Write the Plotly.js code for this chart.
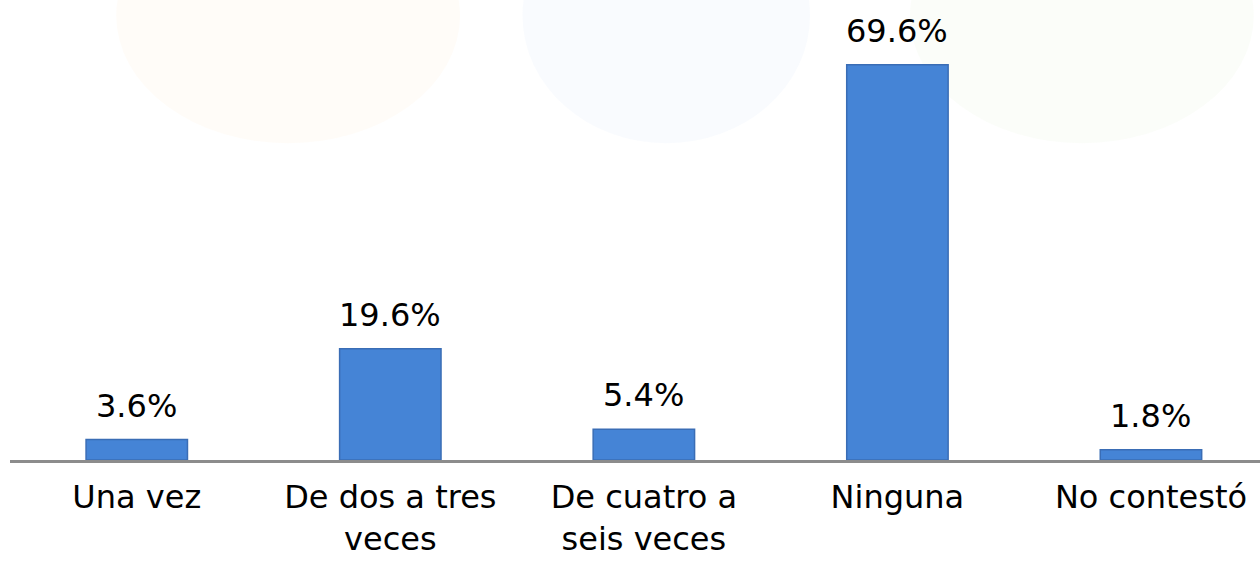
<!DOCTYPE html>
<html>
<head>
<meta charset="utf-8">
<script src="https://cdn.plot.ly/plotly-3.0.1.min.js"></script>
<style>html,body{margin:0;padding:0;background:#fff;}#chart{width:1260px;height:564px;}</style>
</head>
<body>
<div id="chart"></div>
<script>
const categories = ["Una vez", "De dos a tres veces", "De cuatro a seis veces", "Ninguna", "No contestó"];
const tickLabels = ["Una vez", "De dos a tres<br>veces", "De cuatro a<br>seis veces", "Ninguna", "No contestó"];
const values = [3.6, 19.6, 5.4, 69.6, 1.8];

const FONT = "DejaVu Sans, Verdana, sans-serif";

const trace = {
  type: "bar",
  x: categories,
  y: values,
  width: 0.40,
  marker: {
    color: "#4584D6",
    line: {color: "#3A6DB5", width: 1.5}
  },
  hoverinfo: "skip"
};

const annotations = categories.map((c, i) => ({
  x: c, y: values[i], xref: "x", yref: "y",
  text: values[i].toFixed(1) + "%",
  showarrow: false, yanchor: "bottom", yshift: 13,
  font: {family: FONT, size: 32, color: "#000"}
}));

const bg = [
  {fill: "rgba(250,200,140,0.06)", x0: 0.085, x1: 0.36},
  {fill: "rgba(160,195,230,0.06)", x0: 0.41, x1: 0.64},
  {fill: "rgba(185,225,160,0.06)", x0: 0.72, x1: 0.995}
].map(s => ({
  type: "circle", xref: "paper", yref: "paper", layer: "below",
  x0: s.x0, x1: s.x1, y0: 0.72, y1: 1.3,
  fillcolor: s.fill, line: {width: 0}
}));

const layout = {
  width: 1260, height: 564,
  margin: {l: 10, r: 0, t: 20, b: 104},
  paper_bgcolor: "#ffffff",
  plot_bgcolor: "rgba(0,0,0,0)",
  showlegend: false,
  font: {family: FONT, size: 32, color: "#000"},
  xaxis: {
    type: "category",
    range: [-0.5, 4.43],
    tickmode: "array",
    tickvals: categories,
    ticktext: tickLabels,
    showline: true, linecolor: "#8C8C8C", linewidth: 3,
    showgrid: false, zeroline: false, ticks: "",
    ticklabelstandoff: 7,
    tickfont: {family: FONT, size: 32, color: "#000"},
    fixedrange: true
  },
  yaxis: {
    range: [0, 77.5],
    visible: false, showgrid: false, zeroline: false,
    fixedrange: true
  },
  annotations: annotations,
  shapes: bg
};

Plotly.newPlot("chart", [trace], layout, {displayModeBar: false, staticPlot: true});
</script>
</body>
</html>
